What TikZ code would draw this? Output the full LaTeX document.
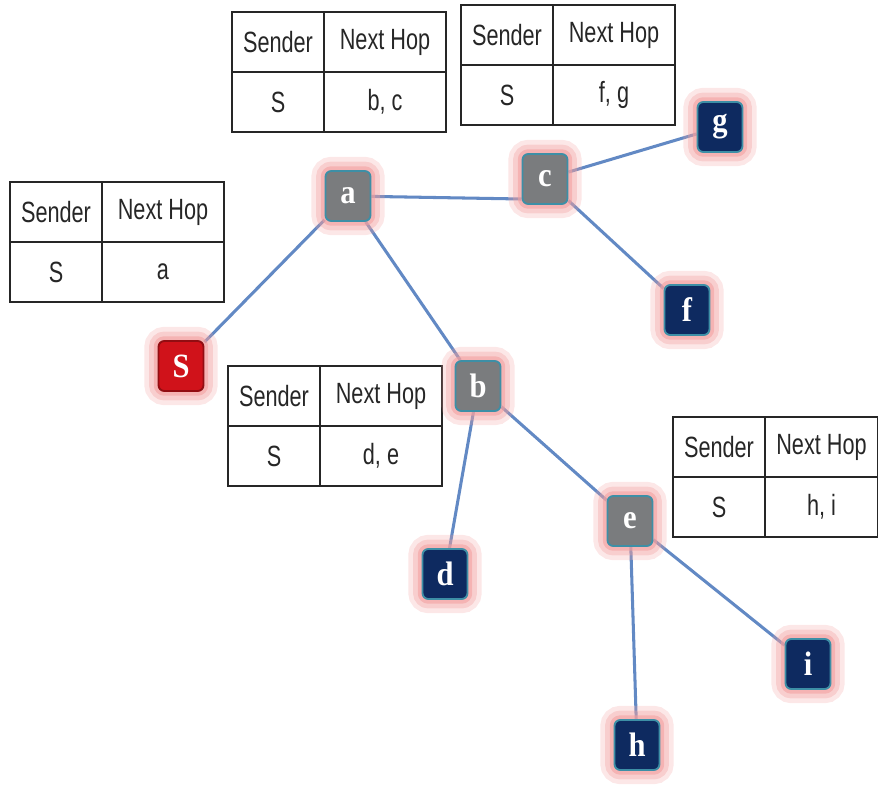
\documentclass[tikz,border=0pt]{standalone}
\usepackage{fontspec}
\setmainfont{Liberation Sans}[FakeStretch=0.74]
\newfontfamily\lblfont{Liberation Serif}[FakeStretch=0.9]
\usetikzlibrary{positioning, backgrounds}
\definecolor{edgeblue}{HTML}{6289C4}
\definecolor{glowpink}{HTML}{F2A0A0}
\definecolor{boxgray}{HTML}{7A7C7E}
\definecolor{boxnavy}{HTML}{0E2A60}
\definecolor{boxred}{HTML}{D0121A}
\definecolor{rimteal}{HTML}{3D8FA6}
\tikzset{
  hop/.style={rounded corners=5pt, draw=rimteal, line width=1.6pt,
    minimum width=1.35cm, minimum height=1.5cm, inner sep=0pt, text=white,
    font=\lblfont\bfseries\fontsize{29}{29}\selectfont,
    preaction={draw=glowpink, line width=24pt, opacity=0.25},
    preaction={draw=glowpink, line width=16pt, opacity=0.35},
    preaction={draw=glowpink, line width=8pt, opacity=0.6}},
  grayhop/.style={hop, fill=boxgray},
  navyhop/.style={hop, fill=boxnavy},
  redhop/.style={hop, fill=boxred, draw=boxred!70!black},
  link/.style={draw=edgeblue, line width=2.6pt},
  cell/.style={draw=black!85, line width=1.8pt, anchor=north west,
    inner sep=0pt, outer sep=0pt, minimum height=1.8cm,
    font=\fontsize{25}{25}\selectfont, text=black!85}
}
\newcommand{\drawV}[4]{
    \node[#1] (#4) at (#2,#3) {#4};
}
\newcommand{\drawL}[2]{
    \draw[link] (#1) -- (#2);
}
\newcommand{\drawT}[5][3.66cm]{
    \node[cell, minimum width=2.76cm] (#2-h1) at (#3,#4) {Sender};
    \node[cell, minimum width=#1] (#2-h2) at (#2-h1.north east) {Next Hop};
    \node[cell, minimum width=2.76cm] (#2-s) at (#2-h1.south west) {S};
    \node[cell, minimum width=#1] (#2-n) at (#2-h1.south east) {#5};
}

\begin{document}
\begin{tikzpicture}[x=0.03cm, y=-0.03cm]
    \useasboundingbox (0,0) rectangle (878,784);
    % Tables
    \drawT{ta}{10}{182}{a}
    \drawT{tb}{232}{12}{b, c}
    \drawT{tc}{461}{5}{f, g}
    \drawT{td}{228}{366}{d, e}
    \drawT[3.39cm]{te}{673}{417}{h, i}
    % Nodes
    \drawV{redhop}{181}{366}{S}
    \drawV{grayhop}{348}{196}{a}
    \drawV{grayhop}{545}{179}{c}
    \drawV{navyhop}{720}{127}{g}
    \drawV{navyhop}{687}{310}{f}
    \drawV{grayhop}{478}{386}{b}
    \drawV{navyhop}{445}{574}{d}
    \drawV{grayhop}{630}{521}{e}
    \drawV{navyhop}{808}{664}{i}
    \drawV{navyhop}{637}{745}{h}
    % Links
    \begin{scope}[on background layer]
        \drawL{S}{a}
        \drawL{a}{[yshift=-0.6cm]c.west}
        \drawL{c}{g}
        \drawL{c}{f}
        \drawL{a}{b}
        \drawL{b}{d}
        \drawL{b}{e}
        \drawL{e}{h}
        \drawL{e}{i}
    \end{scope}
\end{tikzpicture}
\end{document}
